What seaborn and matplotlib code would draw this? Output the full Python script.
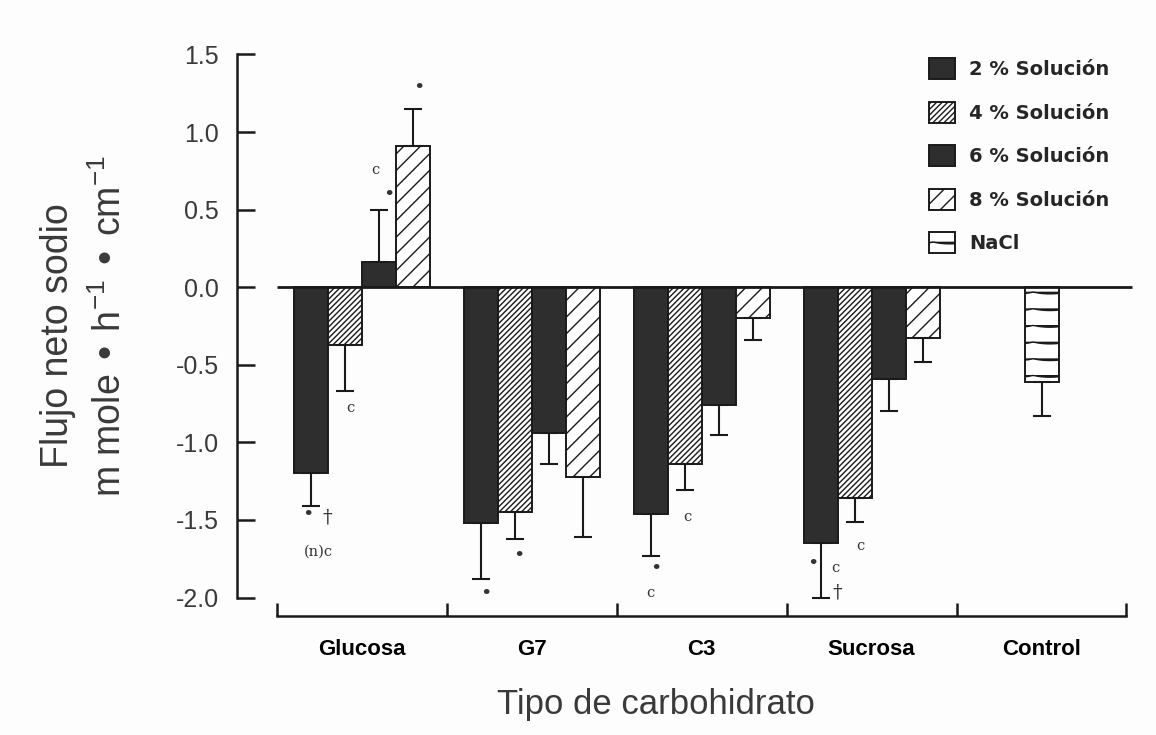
import warnings
import numpy as np
import pandas as pd
import matplotlib
matplotlib.use("Agg")
import matplotlib.pyplot as plt
import matplotlib.hatch as mhatch
from matplotlib.path import Path
import seaborn as sns

warnings.filterwarnings("ignore", message=".*hatch.*")

# ---- data -------------------------------------------------------------
categories = ["Glucosa", "G7", "C3", "Sucrosa", "Control"]
levels = ["2 % Solución", "4 % Solución", "6 % Solución", "8 % Solución"]

# mean net sodium flux per carbohydrate (rows) and solution strength (columns)
flux_2 = [-1.20, -1.52, -1.46, -1.65]
flux_4 = [-0.37, -1.45, -1.14, -1.36]
flux_6 = [0.16, -0.94, -0.76, -0.59]
flux_8 = [0.91, -1.22, -0.20, -0.33]
sem_2 = [0.21, 0.36, 0.27, 0.35]
sem_4 = [0.30, 0.17, 0.17, 0.15]
sem_6 = [0.34, 0.20, 0.19, 0.21]
sem_8 = [0.24, 0.39, 0.14, 0.15]

control_label = "NaCl"
control_flux = [-0.61]
control_sem = [0.22]

yticks = [1.5, 1.0, 0.5, 0.0, -0.5, -1.0, -1.5, -2.0]

# significance marks: (category, level index, text, dx px, dy px from error-bar end)
marks = [
    ("Glucosa", 0, "•", -3, 9), ("Glucosa", 0, "†", 16, 11), ("Glucosa", 0, "(n)c", 8, 46),
    ("Glucosa", 1, "c", 6, 17),
    ("Glucosa", 2, "c", -3, -40), ("Glucosa", 2, "•", 10, -15),
    ("Glucosa", 3, "•", 6, -21),
    ("G7", 0, "•", 5, 15), ("G7", 1, "•", 4, 17),
    ("C3", 0, "•", 5, 13), ("C3", 0, "c", 0, 37), ("C3", 1, "c", 3, 27),
    ("Sucrosa", 0, "•", -8, -34), ("Sucrosa", 0, "c", 15, -30), ("Sucrosa", 0, "†", 17, -5),
    ("Sucrosa", 1, "c", 6, 24),
]
mark_sizes = {"•": 14, "†": 14}


# ---- wavy hatch used for the NaCl bar ---------------------------------
class WaveHatch(mhatch.HatchPatternBase):
    def __init__(self, hatch, density):
        self.num_rows = int(hatch.count("~") * density)
        self.num_pts = 41
        self.num_vertices = self.num_rows * self.num_pts

    def set_vertices_and_codes(self, vertices, codes):
        t = np.linspace(0.0, 1.0, self.num_pts)
        wave = 0.022 * np.abs(np.sin(2 * np.pi * 1.5 * t)) ** 0.6
        for i in range(self.num_rows):
            sl = slice(i * self.num_pts, (i + 1) * self.num_pts)
            vertices[sl, 0] = t
            vertices[sl, 1] = (i + 0.5) / self.num_rows - wave
            codes[sl] = Path.LINETO
            codes[i * self.num_pts] = Path.MOVETO


mhatch._hatch_types.append(WaveHatch)

# ---- tidy frames --------------------------------------------------------
flux = [flux_2, flux_4, flux_6, flux_8]
sems = [sem_2, sem_4, sem_6, sem_8]
rows = []
for li, lev in enumerate(levels):
    for ci, cat in enumerate(categories[:4]):
        rows.append({"cat": cat, "level": lev, "value": flux[li][ci], "sem": sems[li][ci]})
df = pd.DataFrame(rows)
ctrl = pd.DataFrame({"cat": ["Control"], "level": [control_label],
                     "value": control_flux, "sem": control_sem})

# ---- style ---------------------------------------------------------------
sns.set_theme(style="white")
plt.rcParams["font.family"] = ["Liberation Sans", "DejaVu Sans"]
plt.rcParams["axes.unicode_minus"] = False
plt.rcParams["hatch.linewidth"] = 1.0

dark = "#2e2e2e"
palette = {levels[0]: dark, levels[1]: "white", levels[2]: dark, levels[3]: "white"}
hatches = ["", "//////", "", "//"]

fig = plt.figure(figsize=(11.56, 7.35), dpi=100)
fig.patch.set_facecolor("#fdfdfd")
ax = fig.add_axes([0.205, 0.1625, 0.7768, 0.7845])
ax.set_facecolor("#fdfdfd")

sns.barplot(data=df, x="cat", y="value", hue="level", order=categories,
            hue_order=levels, palette=palette, errorbar=None, width=0.8,
            edgecolor="#1a1a1a", linewidth=1.4, legend=False, ax=ax)
for cont, h in zip(ax.containers, hatches):
    for p in cont.patches:
        p.set_hatch(h)
sns.barplot(data=ctrl, x="cat", y="value", order=categories, color="white",
            errorbar=None, width=0.2, edgecolor="#1a1a1a", linewidth=1.4,
            saturation=1, ax=ax)
nacl_bar = ax.containers[-1].patches[0]
nacl_bar.set_hatch("~")

# one-sided error bars, drawn away from the zero line
bar_ends = {}
for li, cont in enumerate(ax.containers[:4]):
    for ci, p in enumerate(cont.patches):
        xc = p.get_x() + p.get_width() / 2
        v, s = flux[li][ci], sems[li][ci]
        yerr = [[s], [0]] if v < 0 else [[0], [s]]
        ax.errorbar([xc], [v], yerr=yerr, fmt="none", ecolor="#1a1a1a",
                    elinewidth=1.5, capsize=6.5, capthick=1.5, zorder=3)
        bar_ends[(categories[ci], li)] = (xc, v - s if v < 0 else v + s)
xc = nacl_bar.get_x() + nacl_bar.get_width() / 2
ax.errorbar([xc], control_flux, yerr=[control_sem, [0]], fmt="none",
            ecolor="#1a1a1a", elinewidth=1.5, capsize=6.5, capthick=1.5, zorder=3)

# zero line across the groups
ax.hlines(0, -0.5, 4.53, color="#1a1a1a", lw=2.0, zorder=4)

for cat, li, txt, dx, dy in marks:
    x0, y0 = bar_ends[(cat, li)]
    ax.annotate(txt, xy=(x0, y0), xytext=(dx, -dy), textcoords="offset pixels",
                ha="center", va="center", fontsize=mark_sizes.get(txt, 10.5),
                color="#333333", family=["DejaVu Serif", "DejaVu Sans"])

# ---- axes ----------------------------------------------------------------
ax.set_xlim(-0.735, 4.55)
ax.set_ylim(-2.116, 1.6)
sns.despine(ax=ax, top=True, right=True)
for side in ("left", "bottom"):
    ax.spines[side].set_color("#1a1a1a")
    ax.spines[side].set_linewidth(1.8)
ax.spines["left"].set_bounds(-2.0, 1.5)
ax.spines["bottom"].set_bounds(-0.5, 4.5)

ax.set_yticks(yticks)
ax.set_yticklabels([f"{v:.1f}" for v in yticks])
ax.tick_params(axis="y", direction="in", length=13, width=1.8, color="#1a1a1a",
               pad=13, labelsize=18, labelcolor="#3a3a3a", left=True)

ax.set_xticks(range(len(categories)))
ax.set_xticklabels(categories, fontsize=16, fontweight="bold",
                   family=["Liberation Sans Narrow", "Liberation Sans"], color="black")
ax.set_xticks(np.arange(-0.5, 5.0, 1.0), minor=True)
ax.tick_params(axis="x", which="major", length=0, pad=17)
ax.tick_params(axis="x", which="minor", direction="in", length=9.5, width=1.8,
               color="#1a1a1a", bottom=True)
ax.set_xlabel("")
ax.set_ylabel("")

fig.text(0.050, 0.544, "Flujo neto sodio", rotation=90, ha="center", va="center",
         fontsize=27, color="#3a3a3a")
fig.text(0.095, 0.556, "m mole • h$^{\\mathregular{-1}}$ • cm$^{\\mathregular{-1}}$",
         rotation=90, ha="center", va="center", fontsize=27, color="#3a3a3a")
fig.text(0.567, 0.041, "Tipo de carbohidrato", ha="center", va="center",
         fontsize=25, color="#3a3a3a")

handles = [ax.containers[i].patches[0] for i in range(4)] + [nacl_bar]
labels = levels + [control_label]
ax.legend(handles, labels, loc="upper left",
          bbox_to_anchor=(929 / 1156, 1 - 58 / 735), bbox_transform=fig.transFigure,
          frameon=False, prop=dict(family="DejaVu Sans", weight="bold", size=14),
          handlelength=1.33, handleheight=1.3, handletextpad=0.75,
          labelspacing=1.15, borderpad=0, borderaxespad=0)

fig.savefig("out.png", dpi=100, facecolor=fig.get_facecolor())
